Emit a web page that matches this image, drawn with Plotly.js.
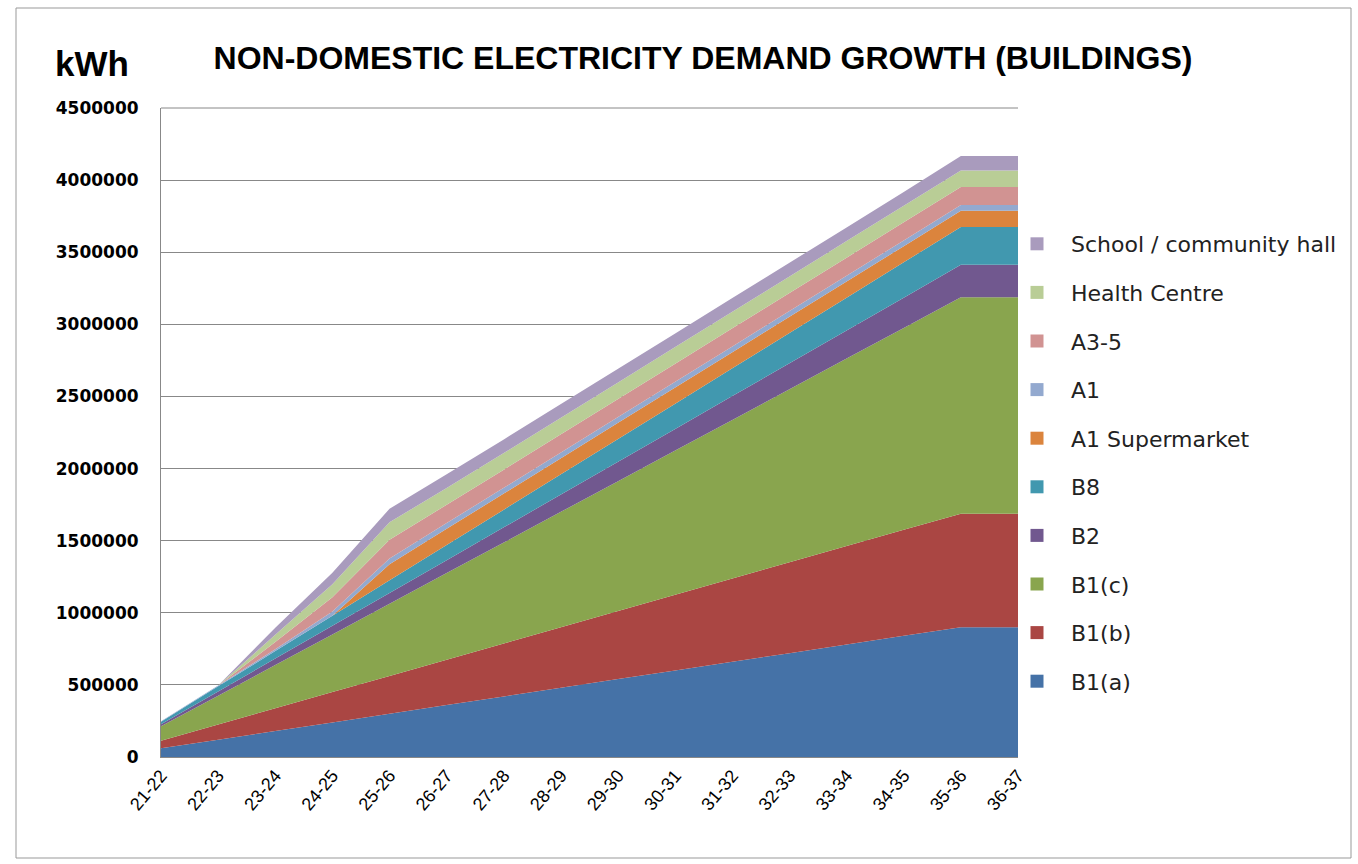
<!DOCTYPE html>
<html>
<head>
<meta charset="utf-8">
<script src="https://cdn.plot.ly/plotly-3.0.1.min.js"></script>
<style>
html,body{margin:0;padding:0;background:#fff;}
#chart{width:1358px;height:864px;}
</style>
</head>
<body>
<div id="chart"></div>
<script>
const categories = ['21-22','22-23','23-24','24-25','25-26','26-27','27-28','28-29','29-30','30-31','31-32','32-33','33-34','34-35','35-36','36-37'];

const seriesNames = ['B1(a)','B1(b)','B1(c)','B2','B8','A1 Supermarket','A1','A3-5','Health Centre','School / community hall'];

const B1a = [60000,120000,180000,240000,300000,360000,420000,480000,540000,600000,660000,720000,780000,840000,900000,900000];
const B1b = [52500,105000,157500,210000,262500,315000,367500,420000,472500,525000,577500,630000,682500,735000,787500,787500];
const B1c = [100000,200000,300000,400000,500000,600000,700000,800000,900000,1000000,1100000,1200000,1300000,1400000,1500000,1500000];
const B2 = [15000,30000,45000,60000,75000,90000,105000,120000,135000,150000,165000,180000,195000,210000,225000,225000];
const B8 = [17500,35000,52500,70000,87500,105000,122500,140000,157500,175000,192500,210000,227500,245000,262500,262500];
const A1Supermarket = [0,0,0,0,112000,112000,112000,112000,112000,112000,112000,112000,112000,112000,112000,112000];
const A1 = [3000,6000,12000,28000,40000,40000,40000,40000,40000,40000,40000,40000,40000,40000,40000,40000];
const A35 = [0,0,50000,100000,130000,127000,125000,125000,125000,125000,125000,125000,125000,125000,125000,125000];
const HealthCentre = [0,0,50000,90000,120000,117000,115000,115000,115000,115000,115000,115000,115000,115000,115000,115000];
const School = [0,0,50000,80000,95000,95000,95000,95000,95000,95000,95000,95000,95000,95000,100000,100000];

const seriesValues = [B1a,B1b,B1c,B2,B8,A1Supermarket,A1,A35,HealthCentre,School];
const colors = ['#4572A7','#AA4643','#89A54E','#71588F','#4198AF','#DB843D','#93A9CF','#D19392','#B9CD96','#A99BBD'];

const traces = [];
seriesNames.forEach((name,i)=>{
  traces.push({
    type:'scatter', mode:'none', x:categories, y:seriesValues[i],
    stackgroup:'one', fillcolor:colors[i], name:name, showlegend:false,
    hoverinfo:'name+y'
  });
});
// legend entries (square markers), top to bottom
for (let i = seriesNames.length-1; i >= 0; i--) {
  traces.push({
    type:'scatter', mode:'markers', x:[null], y:[null], name:seriesNames[i],
    legendgroup:'g'+i, marker:{symbol:'square', size:13, color:colors[i]},
    showlegend:true, hoverinfo:'skip'
  });
}

const L = 161, R = 1018, T = 108, B = 757;
const W = R-L, H = B-T;
const px = x => (x-L)/W;
const py = y => (B-y)/H;

const layout = {
  width:1358, height:864,
  margin:{l:L, r:1358-R, t:T, b:864-B, pad:0},
  paper_bgcolor:'#ffffff', plot_bgcolor:'#ffffff',
  font:{family:'Liberation Sans, Arial, sans-serif', color:'#000'},
  title:{text:'<b>NON-DOMESTIC ELECTRICITY DEMAND GROWTH (BUILDINGS)</b>', x:703/1358, xanchor:'center', y:1-58/864, yanchor:'middle', font:{size:32, color:'#000', family:'Liberation Sans, Arial, sans-serif'}},
  xaxis:{type:'category', range:[0,15], tickangle:-50, tickfont:{size:18, color:'#000'}, showgrid:false, showline:true, linecolor:'#888', linewidth:1, ticks:'', zeroline:false, automargin:false},
  yaxis:{range:[0,4500000], dtick:500000, tickformat:'d', tickfont:{size:17, color:'#000', weight:'bold', family:'DejaVu Sans, sans-serif'}, ticklabelstandoff:18, showgrid:true, gridcolor:'#888', gridwidth:1, showline:true, linecolor:'#888', linewidth:1, ticks:'', ticklen:0, zeroline:false, automargin:false},
  legend:{x:px(1003), xanchor:'left', y:py(223), yanchor:'top', traceorder:'grouped', tracegroupgap:17, itemwidth:58, font:{size:22, color:'#222', family:'DejaVu Sans, sans-serif'}, bgcolor:'rgba(0,0,0,0)', borderwidth:0},
  annotations:[
    {text:'<b>kWh</b>', xref:'paper', yref:'paper', x:px(92), y:py(64), xanchor:'center', yanchor:'middle', showarrow:false, font:{size:35, color:'#000'}}
  ],
  shapes:[
    {type:'rect', xref:'paper', yref:'paper', x0:px(16), x1:px(1351), y0:py(858), y1:py(8), line:{color:'#999', width:1}, fillcolor:'rgba(0,0,0,0)', layer:'below'},
    {type:'line', xref:'paper', yref:'paper', x0:0, x1:1, y0:1, y1:1, line:{color:'#888', width:1}}
  ],
  showlegend:true
};

Plotly.newPlot('chart', traces, layout, {displayModeBar:false, staticPlot:true});
</script>
</body>
</html>
